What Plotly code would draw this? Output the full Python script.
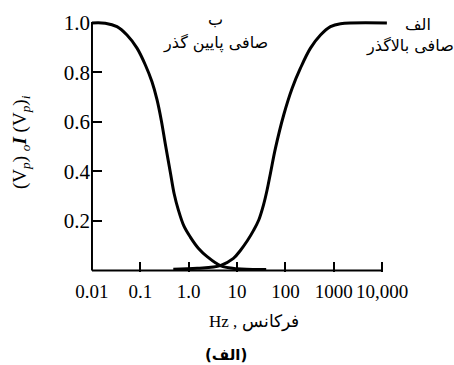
import plotly.graph_objects as go

# ---- data ----
low_f = [0.01, 0.0188, 0.0329, 0.053, 0.0853, 0.127, 0.174, 0.221, 0.272, 0.329, 0.42, 0.5, 0.61, 0.794, 1.08, 1.58, 2.44, 4.5, 10, 40]
low_v = [1.0, 0.999, 0.985, 0.951, 0.898, 0.830, 0.762, 0.69, 0.605, 0.51, 0.393, 0.31, 0.245, 0.18, 0.135, 0.09, 0.055, 0.02, 0.007, 0.004]
high_f = [0.48, 1.5, 4.5, 8.4, 11.7, 16.4, 21.9, 28.2, 35.2, 41.7, 49, 62, 92, 137, 204, 329, 530, 853, 1374, 12500]
high_v = [0.005, 0.009, 0.02, 0.049, 0.081, 0.121, 0.162, 0.205, 0.265, 0.325, 0.393, 0.493, 0.628, 0.735, 0.817, 0.898, 0.951, 0.985, 0.997, 1.0]
x_tick_vals = [0.01, 0.1, 1, 10, 100, 1000, 10000]
x_tick_text = ["0.01", "0.1", "1.0", "10", "100", "1000", "10,000"]
y_tick_vals = [0.2, 0.4, 0.6, 0.8, 1.0]
y_tick_text = ["0.2", "0.4", "0.6", "0.8", "1.0"]

W, H = 454, 365
XR = [-2.02, 4.12]
YR = [-0.006, 1.04]
ML, MR, MT, MB = 91, 66, 13, 93
PW, PH = W - ML - MR, H - MT - MB

def px(x, y):
    return (x - ML) / PW, 1 - (y - MT) / PH

serif = "Liberation Serif"
arab = "DejaVu Sans"

fig = go.Figure()
line = dict(color="black", width=3, shape="spline", smoothing=1.0)
fig.add_trace(go.Scatter(x=low_f, y=low_v, mode="lines", line=line, hoverinfo="skip"))
fig.add_trace(go.Scatter(x=high_f, y=high_v, mode="lines", line=line, hoverinfo="skip"))
# axis lines
fig.add_trace(go.Scatter(x=[x_tick_vals[0], x_tick_vals[-1]], y=[0, 0], mode="lines",
                         line=dict(color="black", width=2), hoverinfo="skip"))
fig.add_trace(go.Scatter(x=[x_tick_vals[0], x_tick_vals[0]], y=[0, 1.0], mode="lines",
                         line=dict(color="black", width=2), hoverinfo="skip"))

fig.update_layout(
    width=W, height=H, showlegend=False,
    margin=dict(l=ML, r=MR, t=MT, b=MB),
    paper_bgcolor="white", plot_bgcolor="white",
    xaxis=dict(type="log", range=XR, showgrid=False, zeroline=False, showline=False,
               tickmode="array", tickvals=x_tick_vals, ticktext=x_tick_text,
               ticks="inside", ticklen=10, tickwidth=1.5, tickcolor="black",
               ticklabelstandoff=6, tickangle=0,
               tickfont=dict(family=serif, size=19, color="black")),
    yaxis=dict(range=YR, showgrid=False, zeroline=False, showline=False,
               tickmode="array", tickvals=y_tick_vals, ticktext=y_tick_text,
               ticks="inside", ticklen=11, tickwidth=1.5, tickcolor="black",
               tickfont=dict(family=serif, size=21, color="black")),
)

def ann(text, x, y, size, family, angle=0):
    ax, ay = px(x, y)
    fig.add_annotation(text=text, x=ax, y=ay, xref="paper", yref="paper",
                       xanchor="center", yanchor="middle", showarrow=False,
                       textangle=angle, font=dict(family=family, size=size, color="black"))

ann("(V<sub><i>p</i></sub>) <sub><i>o</i></sub><b><i>I</i></b> (V<sub><i>p</i></sub>)<sub><i>i</i></sub>",
    21, 142, 19, serif, -90)
ann("ب", 215, 20, 16, arab)
ann("صافی پایین گذر", 215, 43, 16, arab)
ann("الف", 418, 24, 16, arab)
ann("صافی بالاگذر", 410, 46, 16, arab)
ann("Hz , فرکانس", 254, 322, 17, serif)
ann("<b>(الف)</b>", 226, 355, 15, arab)

fig.write_html("out.html")
